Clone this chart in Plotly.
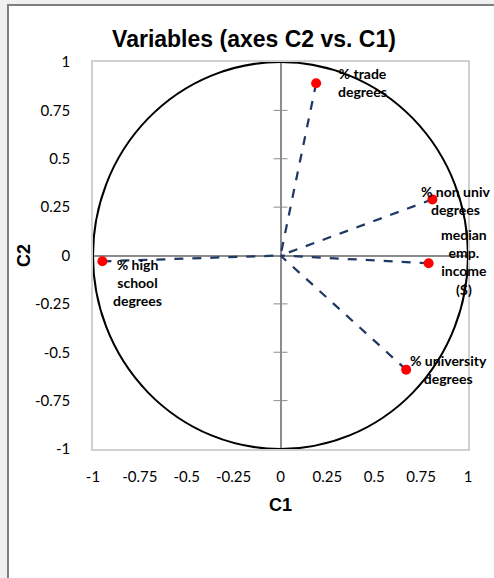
import plotly.graph_objects as go

# Variable loadings on the first two components
variables = ["% trade<br>degrees", "% non univ<br>degrees", "median<br>emp.<br>income<br>($)",
             "% high<br>school<br>degrees", "% university<br>degrees"]
c1 = [0.19, 0.81, 0.79, -0.95, 0.67]
c2 = [0.89, 0.29, -0.04, -0.03, -0.59]

tick_vals = [-1, -0.75, -0.5, -0.25, 0, 0.25, 0.5, 0.75, 1]
tick_labels = ["-1", "-0.75", "-0.5", "-0.25", "0", "0.25", "0.5", "0.75", "1"]

# label offsets (pixels, right / down) relative to each point
label_dx = [46, 23, 35, 35, 42]
label_dy = [-1, 1, -1, 21, 0]

W, H = 494, 578
L, R, T, B = 93, 26, 62, 129
pw, ph = W - L - R, H - T - B

navy = "#1f3864"
axis_grey = "#8c8c8c"
tick_font = dict(family="Lato, Open Sans, sans-serif", size=15, color="#000000")
head_font = "Liberation Sans, Arial, sans-serif"

fig = go.Figure()

# dashed vectors from each variable to the origin
for x, y in zip(c1, c2):
    fig.add_trace(go.Scatter(
        x=[x, 0], y=[y, 0], mode="lines",
        line=dict(color=navy, width=2.25, dash="dash"),
        hoverinfo="skip", showlegend=False,
    ))

# tick marks crossing the vertical zero axis
inner = [v for v in tick_vals if v != 0]
fig.add_trace(go.Scatter(
    x=[0] * len(inner), y=inner, mode="markers",
    marker=dict(symbol="line-ew", size=10, line=dict(color=axis_grey, width=1)),
    hoverinfo="skip", showlegend=False,
))

# variable points
fig.add_trace(go.Scatter(
    x=c1, y=c2, mode="markers",
    marker=dict(color="#ff0000", size=10),
    showlegend=False,
))

# point labels
for name, x, y, dx, dy in zip(variables, c1, c2, label_dx, label_dy):
    fig.add_annotation(
        x=x, y=y, text=name, showarrow=False, xshift=dx, yshift=-dy,
        font=dict(family="Lato, Open Sans, sans-serif", size=14, color="#000000",
                  weight="bold"),
        align="center", xanchor="center", yanchor="middle",
    )

def px_x(p):
    return (p - L) / pw

def px_y(p):
    return 1 - (p - T) / ph

shapes = [
    # chart area frame
    dict(type="rect", xref="paper", yref="paper", layer="below",
         x0=px_x(8), x1=px_x(W + 20), y0=px_y(5), y1=px_y(H + 20),
         fillcolor="#ffffff", line=dict(color="#7f7f7f", width=2)),
    # correlation circle
    dict(type="circle", xref="x", yref="y", x0=-1, x1=1, y0=-1, y1=1,
         line=dict(color="#000000", width=2), layer="above"),
]

fig.update_layout(
    width=W, height=H,
    margin=dict(l=L, r=R, t=T, b=B, pad=0),
    paper_bgcolor="#f0f0f0",
    plot_bgcolor="rgba(0,0,0,0)",
    shapes=shapes,
    title=dict(text="<b>Variables (axes C2 vs. C1)</b>",
               font=dict(family=head_font, size=23, color="#000000"),
               x=254 / W, xanchor="center",
               y=1 - 39 / H, yanchor="middle"),
    xaxis=dict(range=[-1, 1], tickvals=tick_vals, ticktext=tick_labels,
               showgrid=False, zeroline=True, zerolinecolor=axis_grey, zerolinewidth=1.5,
               showline=True, mirror=True, linecolor="#d0d0d0", linewidth=1.5,
               ticks="", ticklabelstandoff=13, tickfont=tick_font,
               title=dict(text="<b>C1</b>", standoff=15,
                          font=dict(family=head_font, size=18, color="#000000"))),
    yaxis=dict(range=[-1, 1], tickvals=tick_vals, ticktext=tick_labels,
               showgrid=False, zeroline=True, zerolinecolor=axis_grey, zerolinewidth=1.5,
               showline=True, mirror=True, linecolor="#d0d0d0", linewidth=1.5,
               ticks="", ticklabelstandoff=18, tickfont=tick_font,
               title=dict(text="<b>C2</b>", standoff=0,
                          font=dict(family=head_font, size=18, color="#000000"))),
)

fig.write_html("out.html")
